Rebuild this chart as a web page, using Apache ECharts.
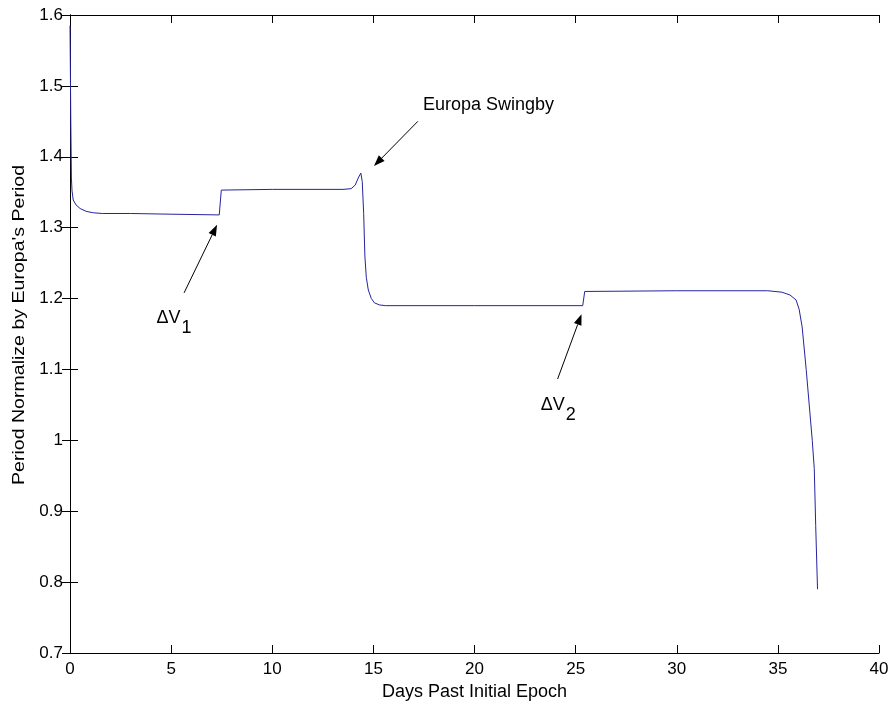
<!DOCTYPE html>
<html>
<head>
<meta charset="utf-8">
<script src="https://cdn.jsdelivr.net/npm/echarts@6/dist/echarts.min.js"></script>
<style>
  html, body { margin: 0; padding: 0; background: #fff; }
  #chart { width: 895px; height: 702px; }
</style>
</head>
<body>
<div id="chart"></div>
<script>
// Orbit period (normalized by Europa's period) versus elapsed days
const days = [
  0, 0.04, 0.07, 0.10, 0.16, 0.30, 0.50, 0.80, 1.15, 1.60, 3.0, 5.0, 7.38,
  7.48, 10.0, 13.5, 13.9, 14.1, 14.25, 14.38, 14.45, 14.52, 14.58, 14.65, 14.75,
  14.9, 15.05, 15.3, 15.6, 20.0, 25.35,
  25.45, 30.0, 34.5, 35.2, 35.6, 35.9, 36.05, 36.2, 36.4, 36.55, 36.7, 36.8,
  36.87, 36.93, 36.96
];
const period = [
  1.585, 1.45, 1.37, 1.352, 1.339, 1.332, 1.327, 1.323, 1.321, 1.320, 1.320, 1.319, 1.318,
  1.353, 1.354, 1.354, 1.355, 1.360, 1.370, 1.377, 1.365, 1.320, 1.260, 1.230, 1.212,
  1.200, 1.194, 1.191, 1.190, 1.190, 1.190,
  1.210, 1.211, 1.211, 1.209, 1.205, 1.198, 1.185, 1.160, 1.100, 1.050, 1.000, 0.960,
  0.880, 0.820, 0.790
];

const xTicks = [0, 5, 10, 15, 20, 25, 30, 35, 40];
const yTicks = [0.7, 0.8, 0.9, 1, 1.1, 1.2, 1.3, 1.4, 1.5, 1.6];

// Annotation arrows: [tailDay, tailValue, tipDay, tipValue]
const arrowDV1 = [5.64, 1.208, 7.27, 1.304];
const arrowSwing = [17.20, 1.450, 15.03, 1.387];
const arrowDV2 = [24.11, 1.0865, 25.29, 1.178];
// Annotation texts: [day, value] at left edge / vertical middle
const labelDV1 = [4.28, 1.1726];
const labelDV2 = [23.27, 1.050];
const labelSwing = [17.45, 1.473];

const FONT = "'Liberation Sans', Arial, Helvetica, sans-serif";
const TEXT_SIZE = 18;
const TICK_SIZE = 17;
const seriesData = days.map((d, i) => [d, period[i]]);

const chart = echarts.init(document.getElementById('chart'), null, { renderer: 'canvas' });

const axisCommon = {
  axisLine: { show: true, lineStyle: { color: '#000', width: 1 } },
  axisTick: { show: true, inside: true, length: 8, lineStyle: { color: '#000', width: 1 } },
  splitLine: { show: false }
};

chart.setOption({
  animation: false,
  backgroundColor: '#fff',
  grid: { left: 70, right: 16, top: 15, bottom: 49, containLabel: false, outerBoundsMode: 'none' },
  xAxis: [
    Object.assign({
      type: 'value', position: 'bottom', min: 0, max: 40, interval: 5,
      axisLabel: { color: '#000', fontSize: TICK_SIZE, fontFamily: FONT, margin: 8,
        formatter: v => xTicks.includes(v) ? String(v) : '' },
      name: 'Days Past Initial Epoch', nameLocation: 'middle', nameGap: 29,
      nameTextStyle: { color: '#000', fontSize: TEXT_SIZE, fontFamily: FONT }
    }, axisCommon),
    Object.assign({
      type: 'value', position: 'top', min: 0, max: 40, interval: 5,
      axisLabel: { show: false }
    }, axisCommon)
  ],
  yAxis: [
    Object.assign({
      type: 'value', position: 'left', min: 0.7, max: 1.6, interval: 0.1,
      axisLabel: { color: '#000', fontSize: TICK_SIZE, fontFamily: FONT, margin: 7,
        formatter: v => {
          const r = Math.round(v * 10) / 10;
          return yTicks.includes(r) ? String(r) : '';
        } }
    }, axisCommon),
    Object.assign({
      type: 'value', position: 'right', min: 0.7, max: 1.6, interval: 0.1,
      axisLabel: { show: false }
    }, axisCommon)
  ],
  series: [{
    type: 'line',
    data: seriesData,
    xAxisIndex: 0, yAxisIndex: 0,
    showSymbol: false,
    smooth: false,
    lineStyle: { color: '#2424a0', width: 1 },
    silent: true
  }]
});

function px(p) { return chart.convertToPixel({ xAxisIndex: 0, yAxisIndex: 0 }, p); }

function arrow(a) {
  const t = px([a[0], a[1]]);
  const h = px([a[2], a[3]]);
  const dx = h[0] - t[0], dy = h[1] - t[1];
  const len = Math.hypot(dx, dy);
  const ux = dx / len, uy = dy / len;
  const headL = 11, headW = 4;
  const bx = h[0] - ux * headL, by = h[1] - uy * headL;
  return [
    { type: 'line', silent: true,
      shape: { x1: t[0], y1: t[1], x2: bx, y2: by },
      style: { stroke: '#000', lineWidth: 1 } },
    { type: 'polygon', silent: true,
      shape: { points: [[h[0], h[1]], [bx - uy * headW, by + ux * headW], [bx + uy * headW, by - ux * headW]] },
      style: { fill: '#000' } }
  ];
}

const ctx = document.createElement('canvas').getContext('2d');
ctx.font = TEXT_SIZE + 'px ' + FONT;
const dvWidth = ctx.measureText('ΔV').width;

function deltaV(p, sub) {
  const a = px(p);
  return [
    { type: 'text', silent: true, x: a[0], y: a[1],
      style: { text: 'ΔV', font: TEXT_SIZE + 'px ' + FONT, fill: '#000', textAlign: 'left', textVerticalAlign: 'middle' } },
    { type: 'text', silent: true, x: a[0] + dvWidth + 1, y: a[1] + 10,
      style: { text: sub, font: TEXT_SIZE + 'px ' + FONT, fill: '#000', textAlign: 'left', textVerticalAlign: 'middle' } }
  ];
}

// Vertical axis title, stretched slightly along its length
const titleText = "Period Normalize by Europa's Period";
ctx.font = '16px ' + FONT;
const titleW = ctx.measureText(titleText).width;
const titleScale = 320 / titleW;

const sw = px(labelSwing);
const elements = []
  .concat(arrow(arrowDV1), arrow(arrowSwing), arrow(arrowDV2))
  .concat(deltaV(labelDV1, '1'), deltaV(labelDV2, '2'))
  .concat([
    { type: 'text', silent: true, x: sw[0], y: sw[1],
      style: { text: 'Europa Swingby', font: TEXT_SIZE + 'px ' + FONT, fill: '#000', textAlign: 'left', textVerticalAlign: 'middle' } },
    { type: 'text', silent: true, x: 20, y: 325, rotation: Math.PI / 2, scaleX: titleScale, scaleY: 1,
      style: { text: titleText, font: '16px ' + FONT, fill: '#000', textAlign: 'center', textVerticalAlign: 'middle' } }
  ]);

chart.setOption({ graphic: { elements: elements } });
</script>
</body>
</html>
